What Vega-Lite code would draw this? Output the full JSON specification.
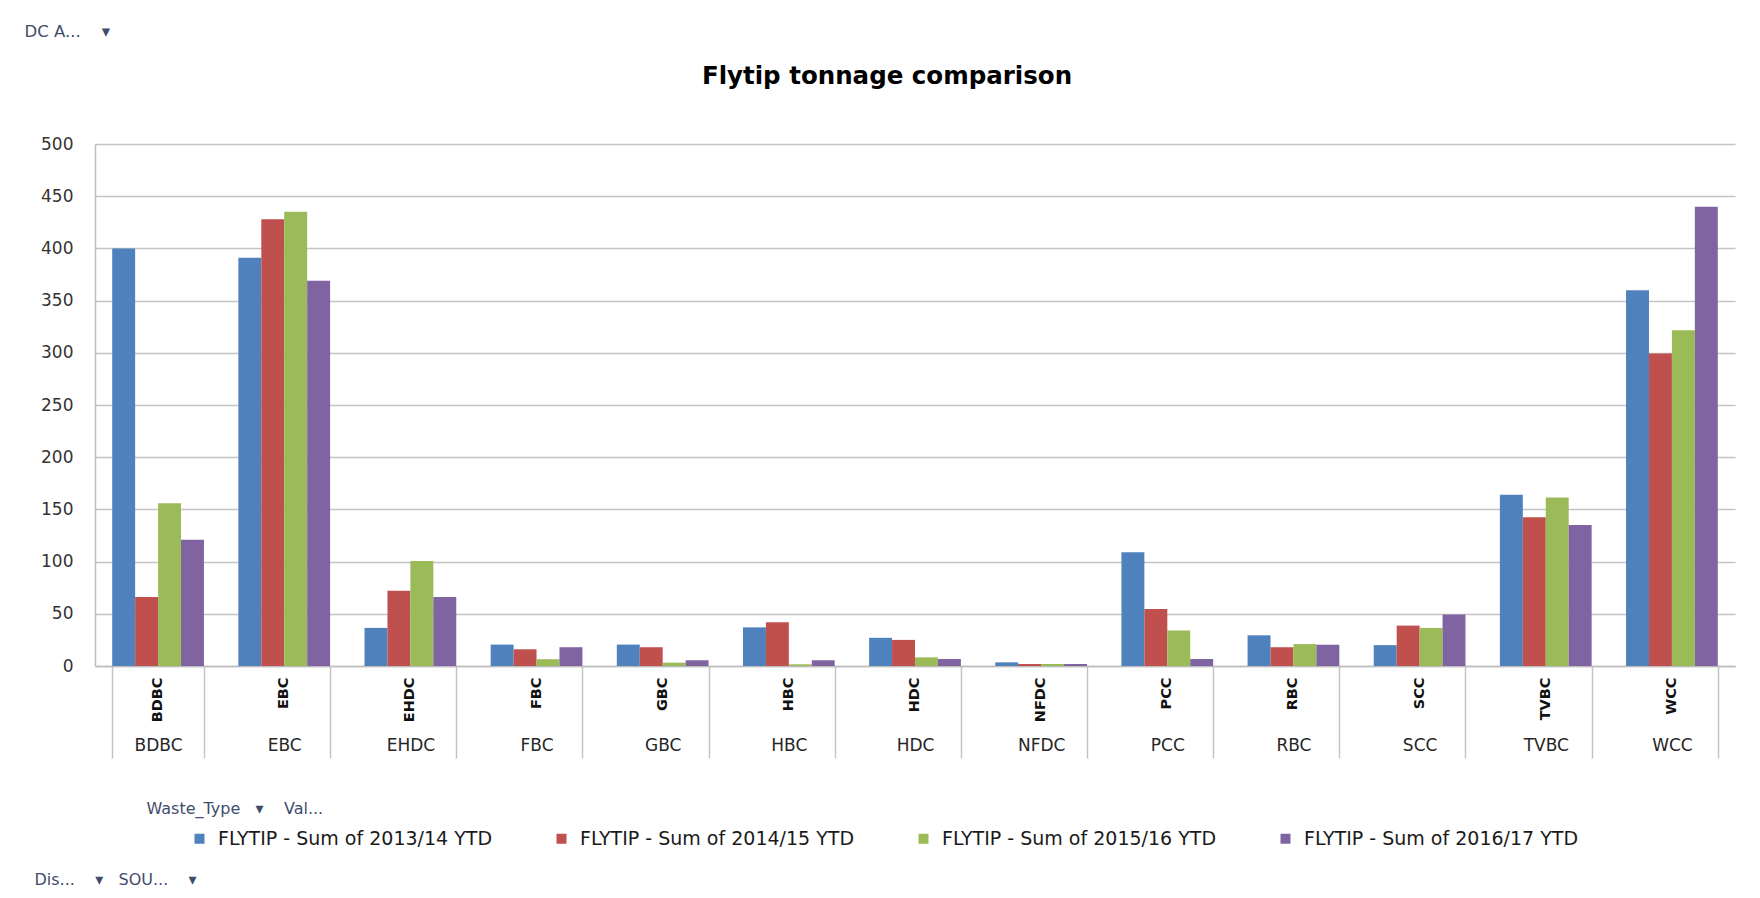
{
  "$schema": "https://vega.github.io/schema/vega-lite/v6.json",
  "autosize": {"type": "none"},
  "padding": {"left": 95, "top": 144, "right": 25, "bottom": 232},
  "width": 1640,
  "height": 522,
  "background": "white",
  "config": {"view": {"stroke": null}, "font": "DejaVu Sans"},
  "title": {
    "text": "Flytip tonnage comparison",
    "font": "DejaVu Sans",
    "fontSize": 24.5,
    "fontWeight": "bold",
    "color": "#000000",
    "anchor": "middle",
    "frame": "group",
    "dx": -28,
    "offset": -66
  },
  "data": {
    "values": [
      {"Council": "BDBC", "Series": "FLYTIP - Sum of 2013/14 YTD", "Tonnes": 400},
      {"Council": "BDBC", "Series": "FLYTIP - Sum of 2014/15 YTD", "Tonnes": 66},
      {"Council": "BDBC", "Series": "FLYTIP - Sum of 2015/16 YTD", "Tonnes": 156},
      {"Council": "BDBC", "Series": "FLYTIP - Sum of 2016/17 YTD", "Tonnes": 121},
      {"Council": "EBC", "Series": "FLYTIP - Sum of 2013/14 YTD", "Tonnes": 391},
      {"Council": "EBC", "Series": "FLYTIP - Sum of 2014/15 YTD", "Tonnes": 428},
      {"Council": "EBC", "Series": "FLYTIP - Sum of 2015/16 YTD", "Tonnes": 435},
      {"Council": "EBC", "Series": "FLYTIP - Sum of 2016/17 YTD", "Tonnes": 369},
      {"Council": "EHDC", "Series": "FLYTIP - Sum of 2013/14 YTD", "Tonnes": 36.5},
      {"Council": "EHDC", "Series": "FLYTIP - Sum of 2014/15 YTD", "Tonnes": 72},
      {"Council": "EHDC", "Series": "FLYTIP - Sum of 2015/16 YTD", "Tonnes": 100.5},
      {"Council": "EHDC", "Series": "FLYTIP - Sum of 2016/17 YTD", "Tonnes": 66},
      {"Council": "FBC", "Series": "FLYTIP - Sum of 2013/14 YTD", "Tonnes": 20.5},
      {"Council": "FBC", "Series": "FLYTIP - Sum of 2014/15 YTD", "Tonnes": 16},
      {"Council": "FBC", "Series": "FLYTIP - Sum of 2015/16 YTD", "Tonnes": 6.5},
      {"Council": "FBC", "Series": "FLYTIP - Sum of 2016/17 YTD", "Tonnes": 18},
      {"Council": "GBC", "Series": "FLYTIP - Sum of 2013/14 YTD", "Tonnes": 20.5},
      {"Council": "GBC", "Series": "FLYTIP - Sum of 2014/15 YTD", "Tonnes": 18},
      {"Council": "GBC", "Series": "FLYTIP - Sum of 2015/16 YTD", "Tonnes": 3.2},
      {"Council": "GBC", "Series": "FLYTIP - Sum of 2016/17 YTD", "Tonnes": 5.5},
      {"Council": "HBC", "Series": "FLYTIP - Sum of 2013/14 YTD", "Tonnes": 37},
      {"Council": "HBC", "Series": "FLYTIP - Sum of 2014/15 YTD", "Tonnes": 42},
      {"Council": "HBC", "Series": "FLYTIP - Sum of 2015/16 YTD", "Tonnes": 1.6},
      {"Council": "HBC", "Series": "FLYTIP - Sum of 2016/17 YTD", "Tonnes": 5.5},
      {"Council": "HDC", "Series": "FLYTIP - Sum of 2013/14 YTD", "Tonnes": 27},
      {"Council": "HDC", "Series": "FLYTIP - Sum of 2014/15 YTD", "Tonnes": 25},
      {"Council": "HDC", "Series": "FLYTIP - Sum of 2015/16 YTD", "Tonnes": 8.3},
      {"Council": "HDC", "Series": "FLYTIP - Sum of 2016/17 YTD", "Tonnes": 6.7},
      {"Council": "NFDC", "Series": "FLYTIP - Sum of 2013/14 YTD", "Tonnes": 3.5},
      {"Council": "NFDC", "Series": "FLYTIP - Sum of 2014/15 YTD", "Tonnes": 1.9},
      {"Council": "NFDC", "Series": "FLYTIP - Sum of 2015/16 YTD", "Tonnes": 1.9},
      {"Council": "NFDC", "Series": "FLYTIP - Sum of 2016/17 YTD", "Tonnes": 1.9},
      {"Council": "PCC", "Series": "FLYTIP - Sum of 2013/14 YTD", "Tonnes": 109},
      {"Council": "PCC", "Series": "FLYTIP - Sum of 2014/15 YTD", "Tonnes": 54.6},
      {"Council": "PCC", "Series": "FLYTIP - Sum of 2015/16 YTD", "Tonnes": 34},
      {"Council": "PCC", "Series": "FLYTIP - Sum of 2016/17 YTD", "Tonnes": 6.7},
      {"Council": "RBC", "Series": "FLYTIP - Sum of 2013/14 YTD", "Tonnes": 29.4},
      {"Council": "RBC", "Series": "FLYTIP - Sum of 2014/15 YTD", "Tonnes": 18},
      {"Council": "RBC", "Series": "FLYTIP - Sum of 2015/16 YTD", "Tonnes": 21},
      {"Council": "RBC", "Series": "FLYTIP - Sum of 2016/17 YTD", "Tonnes": 20.4},
      {"Council": "SCC", "Series": "FLYTIP - Sum of 2013/14 YTD", "Tonnes": 20},
      {"Council": "SCC", "Series": "FLYTIP - Sum of 2014/15 YTD", "Tonnes": 38.7},
      {"Council": "SCC", "Series": "FLYTIP - Sum of 2015/16 YTD", "Tonnes": 36.5},
      {"Council": "SCC", "Series": "FLYTIP - Sum of 2016/17 YTD", "Tonnes": 49.3},
      {"Council": "TVBC", "Series": "FLYTIP - Sum of 2013/14 YTD", "Tonnes": 164},
      {"Council": "TVBC", "Series": "FLYTIP - Sum of 2014/15 YTD", "Tonnes": 142.5},
      {"Council": "TVBC", "Series": "FLYTIP - Sum of 2015/16 YTD", "Tonnes": 161.3},
      {"Council": "TVBC", "Series": "FLYTIP - Sum of 2016/17 YTD", "Tonnes": 135},
      {"Council": "WCC", "Series": "FLYTIP - Sum of 2013/14 YTD", "Tonnes": 360},
      {"Council": "WCC", "Series": "FLYTIP - Sum of 2014/15 YTD", "Tonnes": 299.3},
      {"Council": "WCC", "Series": "FLYTIP - Sum of 2015/16 YTD", "Tonnes": 321.5},
      {"Council": "WCC", "Series": "FLYTIP - Sum of 2016/17 YTD", "Tonnes": 440}
    ]
  },
  "resolve": {"axis": {"x": "independent"}},
  "layer": [
    {
      "mark": {"type": "bar", "opacity": 0},
      "encoding": {
        "x": {
          "field": "Council",
          "type": "nominal",
          "sort": null,
          "scale": {"paddingInner": 0.2727, "paddingOuter": 0.1364},
          "axis": {
            "orient": "bottom",
            "domain": false,
            "grid": false,
            "ticks": true,
            "tickBand": "extent",
            "tickSize": 92,
            "tickColor": "#c4c4c4",
            "tickWidth": 1.5,
            "labelAngle": 0,
            "labelFont": "DejaVu Sans",
            "labelFontSize": 17,
            "labelColor": "#262626",
            "labelPadding": -21,
            "title": "Dis...\u00a0\u00a0\u00a0\u00a0▾\u00a0\u00a0\u00a0SOU...\u00a0\u00a0\u00a0\u00a0▾",
            "titleFont": "DejaVu Sans",
            "titleFontSize": 16,
            "titleFontWeight": "normal",
            "titleColor": "#3f4d6b",
            "titleAngle": 0,
            "titleAlign": "left",
            "titleBaseline": "middle",
            "titleX": -61,
            "titleY": 213
          }
        },
        "xOffset": {"field": "Series", "type": "nominal", "scale": {"paddingInner": 0, "paddingOuter": 0}},
        "y": {"field": "Tonnes", "type": "quantitative"}
      }
    },
    {
      "mark": {"type": "bar"},
      "encoding": {
        "x": {
          "field": "Council",
          "type": "nominal",
          "sort": null,
          "axis": {
            "orient": "bottom",
            "domain": true,
            "domainColor": "#bdbdbd",
            "domainWidth": 1.5,
            "grid": false,
            "ticks": false,
            "labelAngle": -90,
            "labelFont": "DejaVu Sans",
            "labelFontWeight": "bold",
            "labelFontSize": 14.5,
            "labelColor": "#111111",
            "labelPadding": 11,
            "title": "Waste_Type\u00a0\u00a0\u00a0▾\u00a0\u00a0\u00a0\u00a0Val...",
            "titleFont": "DejaVu Sans",
            "titleFontSize": 16,
            "titleFontWeight": "normal",
            "titleColor": "#3f4d6b",
            "titleAngle": 0,
            "titleAlign": "left",
            "titleBaseline": "middle",
            "titleX": 51,
            "titleY": 142
          }
        },
        "xOffset": {"field": "Series", "type": "nominal", "scale": {"paddingInner": 0, "paddingOuter": 0}},
        "y": {
          "field": "Tonnes",
          "type": "quantitative",
          "scale": {"domain": [0, 500], "nice": false},
          "axis": {
            "values": [0, 50, 100, 150, 200, 250, 300, 350, 400, 450, 500],
            "domain": true,
            "domainColor": "#bdbdbd",
            "domainWidth": 1.5,
            "ticks": false,
            "grid": true,
            "gridColor": "#c4c4c4",
            "gridWidth": 1.5,
            "labelFont": "DejaVu Sans",
            "labelFontSize": 17,
            "labelColor": "#333333",
            "labelPadding": 22,
            "title": "DC A...\u00a0\u00a0\u00a0\u00a0▾",
            "titleFont": "DejaVu Sans",
            "titleFontSize": 16.5,
            "titleFontWeight": "normal",
            "titleColor": "#3f4d6b",
            "titleAngle": 0,
            "titleAlign": "left",
            "titleBaseline": "middle",
            "titleX": -71,
            "titleY": -113
          }
        },
        "color": {
          "field": "Series",
          "type": "nominal",
          "scale": {
            "domain": ["FLYTIP - Sum of 2013/14 YTD", "FLYTIP - Sum of 2014/15 YTD", "FLYTIP - Sum of 2015/16 YTD", "FLYTIP - Sum of 2016/17 YTD"],
            "range": ["#4f81bd", "#c0504d", "#9bbb59", "#8064a2"]
          },
          "legend": {
            "orient": "none",
            "legendX": 95,
            "legendY": 685,
            "direction": "horizontal",
            "columns": 4,
            "gridAlign": "all",
            "columnPadding": 59,
            "title": null,
            "symbolType": "square",
            "symbolSize": 100,
            "symbolStrokeWidth": 0,
            "labelFont": "DejaVu Sans",
            "labelFontSize": 19,
            "labelColor": "#1a1a1a",
            "labelOffset": 9,
            "labelLimit": 400
          }
        }
      }
    }
  ]
}
